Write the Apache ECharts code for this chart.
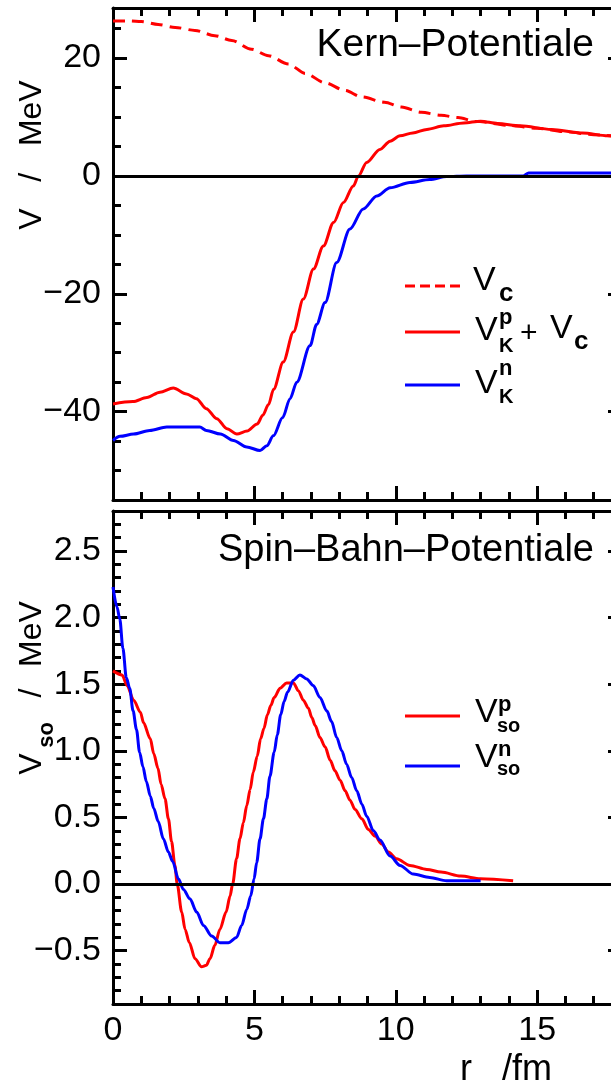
<!DOCTYPE html>
<html>
<head>
<meta charset="utf-8">
<title>Kern- und Spin-Bahn-Potentiale</title>
<script src="https://cdn.jsdelivr.net/npm/echarts@6/dist/echarts.min.js"></script>
<style>
  html, body { margin: 0; padding: 0; overflow: hidden; background: #fff; }
  #main { width: 640px; height: 1087px; }
</style>
</head>
<body>
<div id="main"></div>
<script>
// ---- Daten ----
// Kern-Potentiale, r in fm, V in MeV
var rC  = [0, 0.6, 1.0, 1.6, 2.2, 2.9, 3.6, 4.2, 4.9, 5.5, 6.2, 6.8, 7.5, 8.2, 8.8, 9.6, 10.2, 10.9, 11.6, 12.2, 12.8, 14, 15, 16, 17, 18];
var vC  = [26.3, 26.3, 26.2, 25.7, 25.2, 24.7, 23.8, 23.0, 21.5, 20.4, 19.0, 17.4, 15.8, 14.5, 13.4, 12.5, 11.7, 10.8, 10.3, 9.9, 9.3, 8.6, 8.1, 7.5, 7.0, 6.6];

var rKp = [0, 0.7, 1.2, 1.66, 2.13, 2.6, 2.95, 3.3, 3.67, 4.03, 4.38, 4.74, 5.1, 5.3, 5.5, 5.68, 6.02, 6.38, 6.73, 7.09, 7.44, 7.8, 8.15, 8.5, 8.68, 8.97, 9.44, 9.8, 10.15, 10.6, 11.1, 11.7, 12.4, 13.0, 13.6, 14.4, 15.5, 16.6, 17.5, 18];
var vKp = [-38.7, -38.3, -37.6, -36.7, -36.0, -37.0, -37.8, -39.5, -41.2, -42.9, -43.8, -43.3, -42.1, -40.6, -38.8, -36.2, -31.6, -26.5, -20.9, -15.8, -11.9, -7.9, -4.5, -1.7, 0, 2.3, 4.5, 5.9, 6.8, 7.3, 7.9, 8.5, 9.0, 9.3, 8.9, 8.5, 7.9, 7.3, 6.8, 6.6];

var rKn = [0, 0.25, 0.73, 1.3, 1.9, 2.5, 3.07, 3.3, 3.8, 4.26, 4.73, 5.2, 5.44, 5.67, 6.0, 6.26, 6.5, 6.97, 7.2, 7.5, 7.91, 8.38, 8.85, 9.33, 9.8, 10.5, 11.2, 11.8, 12.5, 14.5, 14.7, 18];
var vKn = [-44.9, -44.2, -43.8, -43.2, -42.6, -42.6, -42.6, -43.2, -43.8, -44.9, -46.0, -46.6, -45.8, -44.1, -41.0, -37.8, -35.0, -28.8, -25.2, -21.5, -14.7, -9.0, -5.6, -3.4, -2.0, -1.1, -0.6, -0.1, 0, 0, 0.5, 0.5];

// Spin-Bahn-Potentiale
var rSp = [0, 0.32, 0.5, 0.73, 0.97, 1.08, 1.32, 1.44, 1.59, 1.70, 1.84, 1.96, 2.07, 2.19, 2.27, 2.43, 2.55, 2.7, 2.9, 3.13, 3.3, 3.43, 3.6, 3.78, 4.0, 4.14, 4.23, 4.37, 4.49, 4.61, 4.73, 4.85, 4.96, 5.1, 5.22, 5.34, 5.46, 5.58, 5.7, 5.91, 6.14, 6.38, 6.56, 6.73, 6.91, 7.03, 7.15, 7.32, 7.5, 7.68, 7.85, 8.03, 8.21, 8.38, 8.56, 8.8, 9.03, 9.27, 9.5, 9.74, 10.03, 10.5, 11.1, 11.6, 12.3, 13.0, 14.15];
var vSp = [1.60, 1.57, 1.49, 1.38, 1.29, 1.21, 1.09, 0.98, 0.87, 0.75, 0.64, 0.49, 0.32, 0.14, 0.0, -0.21, -0.34, -0.44, -0.56, -0.62, -0.61, -0.56, -0.46, -0.34, -0.21, -0.09, 0.0, 0.19, 0.34, 0.46, 0.59, 0.71, 0.84, 0.96, 1.09, 1.17, 1.27, 1.34, 1.40, 1.47, 1.51, 1.51, 1.45, 1.38, 1.32, 1.25, 1.19, 1.10, 1.03, 0.93, 0.85, 0.78, 0.70, 0.63, 0.56, 0.49, 0.41, 0.36, 0.30, 0.24, 0.19, 0.14, 0.11, 0.09, 0.06, 0.04, 0.025];

var rSn = [0, 0.14, 0.24, 0.35, 0.47, 0.59, 0.71, 0.83, 0.94, 1.06, 1.18, 1.32, 1.44, 1.6, 1.78, 1.96, 2.11, 2.31, 2.49, 2.72, 2.96, 3.2, 3.49, 3.78, 4.08, 4.37, 4.55, 4.73, 4.87, 4.99, 5.08, 5.2, 5.32, 5.44, 5.55, 5.7, 5.81, 5.93, 6.05, 6.17, 6.38, 6.61, 6.85, 7.08, 7.32, 7.56, 7.73, 7.91, 8.09, 8.26, 8.44, 8.62, 8.8, 8.97, 9.21, 9.44, 9.8, 10.15, 10.62, 11.2, 11.8, 13.0];
var vSn = [2.23, 2.08, 1.99, 1.77, 1.55, 1.47, 1.30, 1.16, 0.99, 0.88, 0.77, 0.66, 0.57, 0.47, 0.34, 0.24, 0.17, 0.04, -0.04, -0.11, -0.21, -0.31, -0.39, -0.44, -0.44, -0.40, -0.31, -0.19, -0.09, 0.04, 0.16, 0.34, 0.49, 0.64, 0.81, 0.99, 1.12, 1.27, 1.37, 1.44, 1.53, 1.57, 1.54, 1.49, 1.40, 1.30, 1.22, 1.10, 1.00, 0.90, 0.80, 0.70, 0.60, 0.51, 0.40, 0.33, 0.21, 0.14, 0.075, 0.05, 0.025, 0.025];

// Achsen
var xTicks      = [0, 5, 10, 15];
var yTicksKern  = [-40, -20, 0, 20];
var yTicksSpin  = [-0.5, 0, 0.5, 1.0, 1.5, 2.0, 2.5];

var FONT = 'Liberation Sans, Arial, sans-serif';
var RED = '#ff0000', BLUE = '#0000ff';

function zip(xs, ys) {
    var out = [];
    for (var i = 0; i < xs.length; i++) out.push([xs[i], ys[i]]);
    return out;
}
function minus(s) { return String(s).replace('-', '\u2212'); }

// eine Achse: Hauptstriche (lang) oder Nebenstriche (kurz)
function xAx(grid, pos, major, labels) {
    var a = {
        type: 'value', gridIndex: grid, position: pos, min: 0, max: 18,
        axisLine: { show: major, onZero: false, lineStyle: { color: '#000', width: 3 } },
        axisTick: { show: true, inside: true, length: major ? 14 : 8, lineStyle: { color: '#000', width: 3 } },
        axisLabel: { show: !!labels, margin: 10, color: '#000', fontFamily: FONT, fontSize: 34 },
        splitLine: { show: false }
    };
    if (major) { a.axisTick.customValues = xTicks; a.axisLabel.customValues = xTicks; }
    else a.interval = 1;
    return a;
}
function yAx(grid, pos, major, labels, min, max, ticks, minorStep, fmt) {
    var a = {
        type: 'value', gridIndex: grid, position: pos, min: min, max: max,
        axisLine: { show: major, onZero: false, lineStyle: { color: '#000', width: 3 } },
        axisTick: { show: true, inside: true, length: major ? 14 : 8, lineStyle: { color: '#000', width: 3 } },
        axisLabel: { show: !!labels, margin: 12, color: '#000', fontFamily: FONT, fontSize: 34, formatter: fmt },
        splitLine: { show: false }
    };
    if (major) { a.axisTick.customValues = ticks; a.axisLabel.customValues = ticks; }
    else a.interval = minorStep;
    return a;
}

var fmtKern = function (v) { return minus(v); };
var fmtSpin = function (v) { return minus(v.toFixed(1)); };

function txt(x, y, s, size, extra) {
    var st = { text: s, x: 0, y: 0, fill: '#000', font: (extra && extra.bold ? 'bold ' : '') + size + 'px ' + FONT,
               align: (extra && extra.align) || 'left', verticalAlign: 'middle' };
    return { type: 'text', x: x, y: y, rotation: (extra && extra.rot) || 0, silent: true, style: st };
}
function key(y, color, dash) {
    return { type: 'line', silent: true, shape: { x1: 405, y1: y, x2: 460, y2: y },
             style: { stroke: color, lineWidth: 3, lineDash: dash || null } };
}
function curve(name, xi, color, dash, xs, ys) {
    return { name: name, type: 'line', xAxisIndex: xi, yAxisIndex: xi, z: 3, symbol: 'none',
             smooth: 0.3, smoothMonotone: 'x',
             lineStyle: { color: color, width: 3, type: dash || 'solid' }, data: zip(xs, ys) };
}

var chart = echarts.init(document.getElementById('main'), null, { renderer: 'canvas' });

var option = {
    animation: false,
    backgroundColor: '#fff',
    grid: [
        { left: 113, top: 8, width: 509, height: 492 },
        { left: 113, top: 511, width: 509, height: 493 }
    ],
    xAxis: [
        xAx(0, 'bottom', true, false), xAx(0, 'bottom', false, false),
        xAx(0, 'top', true, false),    xAx(0, 'top', false, false),
        xAx(1, 'bottom', true, true),  xAx(1, 'bottom', false, false),
        xAx(1, 'top', true, false),    xAx(1, 'top', false, false)
    ],
    yAxis: [
        yAx(0, 'left', true, true, -55, 28.5, yTicksKern, 5, fmtKern),
        yAx(0, 'left', false, false, -55, 28.5, yTicksKern, 5),
        yAx(0, 'right', true, false, -55, 28.5, yTicksKern, 5),
        yAx(0, 'right', false, false, -55, 28.5, yTicksKern, 5),
        yAx(1, 'left', true, true, -0.9, 2.8, yTicksSpin, 0.1, fmtSpin),
        yAx(1, 'left', false, false, -0.9, 2.8, yTicksSpin, 0.1),
        yAx(1, 'right', true, false, -0.9, 2.8, yTicksSpin, 0.1),
        yAx(1, 'right', false, false, -0.9, 2.8, yTicksSpin, 0.1)
    ],
    series: [
        // Nulllinien
        { type: 'line', xAxisIndex: 0, yAxisIndex: 0, data: [], z: 1,
          markLine: { silent: true, symbol: 'none', label: { show: false },
                      lineStyle: { color: '#000', width: 3, type: 'solid' }, data: [{ yAxis: 0 }] } },
        { type: 'line', xAxisIndex: 4, yAxisIndex: 4, data: [], z: 1,
          markLine: { silent: true, symbol: 'none', label: { show: false },
                      lineStyle: { color: '#000', width: 3, type: 'solid' }, data: [{ yAxis: 0 }] } },
        // Kern-Potentiale
        curve('Vc', 0, RED, [12, 7], rC, vC),
        curve('VKp+Vc', 0, RED, null, rKp, vKp),
        curve('VKn', 0, BLUE, null, rKn, vKn),
        // Spin-Bahn-Potentiale
        curve('Vsop', 4, RED, null, rSp, vSp),
        curve('Vson', 4, BLUE, null, rSn, vSn)
    ],
    graphic: [
        // Titel
        txt(594, 45, 'Kern\u2013Potentiale', 39, { align: 'right' }),
        txt(594, 551, 'Spin\u2013Bahn\u2013Potentiale', 38, { align: 'right' }),
        // Achsentitel
        txt(32, 155, 'V   /   MeV', 32, { align: 'center', rot: Math.PI / 2 }),
        txt(32, 764, 'V', 32, { align: 'center', rot: Math.PI / 2 }),
        txt(47, 735, 'so', 22, { align: 'center', rot: Math.PI / 2, bold: true }),
        txt(32, 693, '/', 32, { align: 'center', rot: Math.PI / 2 }),
        txt(32, 634, 'MeV', 32, { align: 'center', rot: Math.PI / 2 }),
        txt(460, 1070, 'r   /fm', 36),
        // Legende oben
        key(286, RED, [10, 5]), key(332, RED), key(385, BLUE),
        txt(473, 281, 'V', 34), txt(499, 294, 'c', 26, { bold: true }),
        txt(475, 331, 'V', 34), txt(499, 318, 'p', 22, { bold: true }), txt(499, 346, 'K', 20, { bold: true }),
        txt(520, 334, '+', 30), txt(550, 329, 'V', 34), txt(574, 342, 'c', 26, { bold: true }),
        txt(475, 384, 'V', 34), txt(499, 369, 'n', 22, { bold: true }), txt(499, 397, 'K', 20, { bold: true }),
        // Legende unten
        key(716, RED), key(766, BLUE),
        txt(475, 713, 'V', 34), txt(498, 705, 'p', 22, { bold: true }), txt(497, 726, 'so', 20, { bold: true }),
        txt(475, 758, 'V', 34), txt(498, 750, 'n', 22, { bold: true }), txt(497, 769, 'so', 20, { bold: true })
    ]
};

chart.setOption(option);
</script>
</body>
</html>
